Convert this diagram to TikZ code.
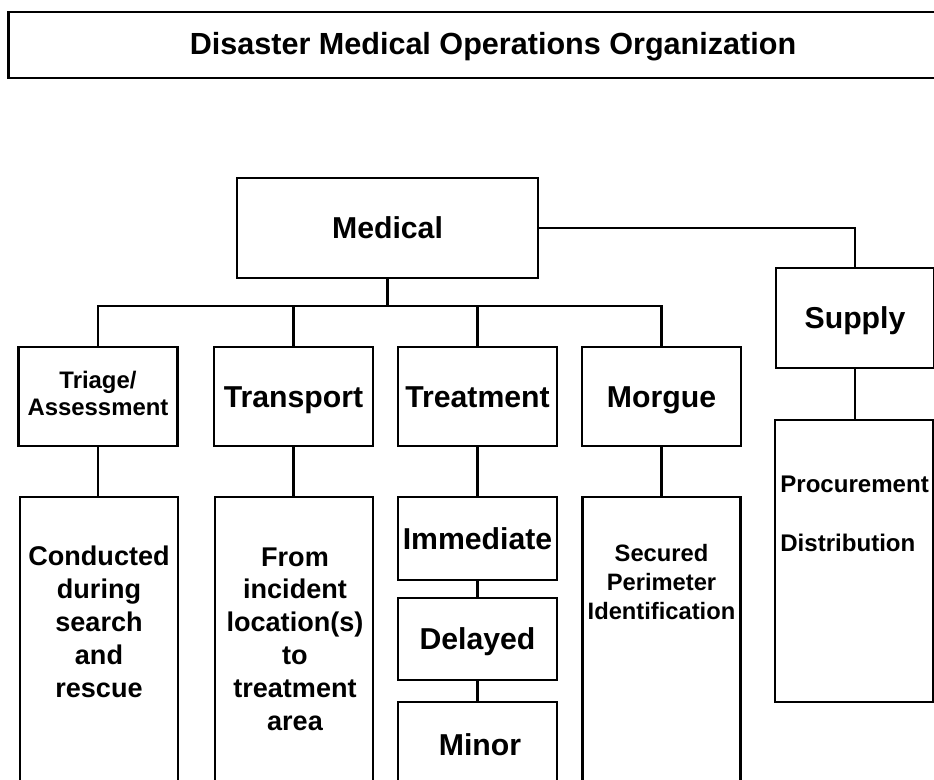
\documentclass[tikz,border=0pt]{standalone}
\usepackage{fontspec}
\setmainfont{Liberation Sans}
\begin{document}
\begin{tikzpicture}[x=0.02cm,y=-0.02cm,
  box/.style={draw=black, line width=1.6pt, rectangle, inner sep=0pt, font=\bfseries\fontsize{17.2pt}{20pt}\selectfont, text height=12.3pt, text depth=0pt},
  lvl/.style={box, minimum width=3.18cm, minimum height=1.98cm},
  tall/.style={box, minimum width=3.16cm, minimum height=5.86cm},
  sub/.style={box, minimum width=3.18cm},
  txt/.style={inner sep=0pt, align=center, font=\bfseries\fontsize{15.4pt}{18.7pt}\selectfont},
  link/.style={draw=black, line width=1.6pt, line cap=rect}]
\clip (0,0) rectangle (934,780);
\fill[white] (0,0) rectangle (934,780);

% title
\node[box, minimum width=19.4cm, minimum height=1.32cm] (title) at (493,45) {};
\node[inner sep=0pt, text height=12.5pt, text depth=0pt, font=\bfseries\fontsize{17.4pt}{20pt}\selectfont] (titletext) at (493,44) {Disaster Medical Operations Organization};

% top level
\node[box, minimum width=6.02cm, minimum height=2cm] (med) at (387.5,228) {Medical};
\node[box, minimum width=3.16cm, minimum height=2cm] (sup) at (855,318) {Supply};

% second level
\node[lvl] (tri) at (98,396.5) {};
\node[inner sep=0pt, align=center, font=\bfseries\fontsize{13.6pt}{15.3pt}\selectfont] (tritext) at (98,393.5) {Triage/\\Assessment};
\node[lvl] (trans) at (293.5,396.5) {Transport};
\node[lvl] (treat) at (477.5,396.5) {Treatment};
\node[lvl] (morg) at (661.5,396.5) {Morgue};

% third level
\node[tall] (cond) at (99,643.5) {};
\node[tall] (from) at (294,643.5) {};
\node[tall] (sec) at (661.5,643.5) {};
\node[sub, minimum height=1.66cm] (imm) at (477.5,538.5) {Immediate};
\node[sub, minimum height=1.64cm] (del) at (477.5,639) {Delayed};
\node[sub, minimum height=1.76cm] (minr) at (477.5,746) {};
\node[inner sep=0pt, text height=12.3pt, text depth=0pt, font=\bfseries\fontsize{17.2pt}{20pt}\selectfont] (minrtext) at (480,745) {Minor};
\node[box, minimum width=3.16cm, minimum height=5.64cm] (proc) at (854,561) {};

% texts in tall boxes
\node[txt] (condtext) at (99,622) {Conducted\\during\\search\\and\\rescue};
\node[txt] (fromtext) at (295,639) {From\\incident\\location(s)\\to\\treatment\\area};
\node[inner sep=0pt, align=center, font=\bfseries\fontsize{13.5pt}{16.4pt}\selectfont] (sectext) at (661.5,582) {Secured\\Perimeter\\Identification};
\node[inner sep=0pt, anchor=west, font=\bfseries\fontsize{13.7pt}{16pt}\selectfont] (proctext) at (780,484) {Procurement};
\node[inner sep=0pt, anchor=west, font=\bfseries\fontsize{13.7pt}{16pt}\selectfont] (disttext) at (780,543) {Distribution};

% connectors
\coordinate (busL) at (98,306);
\coordinate (busR) at (661.5,306);
\draw[link] (busL) -- (busR);
\draw[link] (med.south) -- (med.south |- busL);
\draw[link] (tri.north) -- (tri.north |- busL);
\draw[link] (trans.north) -- (trans.north |- busL);
\draw[link] (treat.north) -- (treat.north |- busL);
\draw[link] (morg.north) -- (morg.north |- busL);
\draw[link] (med.east) -- (sup.north |- med.east) -- (sup.north);

\draw[link] (tri.south) -- (tri.south |- cond.north);
\draw[link] (trans.south) -- (trans.south |- from.north);
\draw[link] (treat.south) -- (imm.north);
\draw[link] (imm.south) -- (del.north);
\draw[link] (del.south) -- (minr.north);
\draw[link] (morg.south) -- (morg.south |- sec.north);
\draw[link] (sup.south) -- (sup.south |- proc.north);
\end{tikzpicture}
\end{document}
